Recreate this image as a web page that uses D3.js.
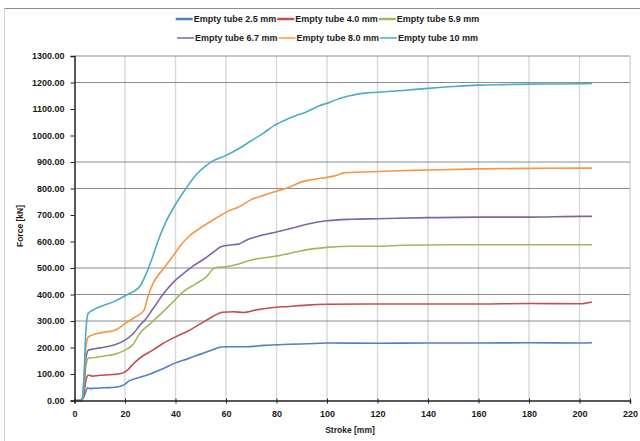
<!DOCTYPE html>
<html>
<head>
<script src="https://d3js.org/d3.v7.min.js"></script>
<style>
  body { margin: 0; background: #fff; }
  text { font-family: "Liberation Sans", Arial, sans-serif; fill: #1a1a1a; }
</style>
</head>
<body>
<svg id="chart" width="640" height="441"></svg>
<script>
// series: [stroke mm, force kN]
const tube25 = [[0,0],[2,0],[3,3],[3.8,15],[4.5,35],[5.2,48],[6,45],[8,46],[12,48],[16,50],[18.5,55],[20,62],[21.5,73],[25,85],[30,100],[35,120],[40,142],[45,158],[50,175],[55,192],[58,202],[62,203],[68,203],[75,208],[85,212],[95,215],[100,217],[120,216],[140,217],[160,217],[180,218],[200,217],[205,218]];
const tube40 = [[0,0],[2,0],[3,3],[3.8,30],[4.5,75],[5.5,96],[7,92],[10,95],[15,98],[18.5,102],[21,115],[24,145],[27,168],[31,190],[35,215],[40,240],[45,262],[50,290],[55,318],[58.5,333],[63,335],[67,332],[72,342],[78,350],[85,355],[92,360],[100,363],[115,364],[140,364],[160,364],[180,366],[200,365],[205,372]];
const tube59 = [[0,0],[2,0],[3,3],[3.8,50],[4.5,130],[5.5,160],[8,162],[12,168],[16,175],[20,190],[23,210],[26,255],[30,290],[34,325],[38.5,367],[43,410],[48,440],[52,465],[55.5,500],[60,505],[65,515],[70,530],[80,545],[90,565],[95,573],[100,578],[110,582],[120,582],[130,586],[150,588],[170,588],[190,588],[205,588]];
const tube67 = [[0,0],[2,0],[3,3],[3.8,60],[4.5,160],[5.5,190],[8,195],[12,202],[16,210],[20,228],[23,250],[26,285],[28,305],[31,345],[35,400],[39,445],[43,478],[47,508],[51,532],[55,560],[58,580],[61,586],[65,590],[68,605],[72,618],[80,636],[88,655],[93,667],[100,678],[110,684],[120,686],[140,690],[160,692],[180,692],[200,695],[205,695]];
const tube80 = [[0,0],[2,0],[3,3],[3.8,80],[4.5,200],[5.5,240],[8,250],[12,258],[16,265],[20,290],[24,315],[27.5,340],[29,390],[31,440],[35,495],[39,545],[42,585],[45,617],[50,652],[55,682],[61,715],[65,730],[70,758],[75,775],[80,790],[85,805],[90,825],[95,835],[100,842],[104,850],[107,860],[115,862],[125,866],[140,870],[160,874],[180,876],[200,877],[205,877]];
const tube10 = [[0,0],[2,0],[3,5],[3.8,100],[4.5,260],[5.4,328],[8,345],[12,360],[16,375],[21,400],[24,415],[26,432],[28,470],[30.5,530],[33,600],[36,670],[40,740],[44.5,805],[48,850],[52,885],[55,905],[60,925],[65,950],[70,980],[75,1010],[79,1037],[85,1065],[92,1090],[97,1112],[101,1125],[105,1140],[110,1152],[115,1160],[120,1163],[130,1170],[140,1178],[150,1185],[160,1190],[170,1192],[180,1194],[200,1195],[205,1196]];

const seriesNames = ["Empty tube 2.5 mm", "Empty tube 4.0 mm", "Empty tube 5.9 mm", "Empty tube 6.7 mm", "Empty tube 8.0 mm", "Empty tube 10 mm"];
const seriesData = [tube25, tube40, tube59, tube67, tube80, tube10];
const seriesColors = ["#4f81bd", "#c0504d", "#9bbb59", "#8064a2", "#f79646", "#4bacc6"];

const xTicks = d3.range(0, 221, 20);
const yTicks = d3.range(0, 1301, 100);
const hGrid = [300, 400, 500, 800, 900, 1200, 1300]; // gridlines that show in the original

const svg = d3.select("#chart");

// outer frame
svg.append("line").attr("x1", 4.5).attr("x2", 640).attr("y1", 8.5).attr("y2", 8.5)
  .attr("stroke", "#8c8c8c").attr("stroke-width", 1);
svg.append("line").attr("x1", 4.5).attr("x2", 4.5).attr("y1", 8.5).attr("y2", 441)
  .attr("stroke", "#d0d0d0").attr("stroke-width", 1);

const x = d3.scaleLinear().domain([0, 220]).range([74.5, 630]);
const y = d3.scaleLinear().domain([0, 1300]).range([400.5, 56]);

const g = svg.append("g");

// vertical gridlines
g.selectAll(".vg").data(xTicks.filter(d => d > 0)).join("line")
  .attr("x1", d => x(d)).attr("x2", d => x(d))
  .attr("y1", y(1300)).attr("y2", y(0))
  .attr("stroke", "#d9d9d9").attr("stroke-width", 1.5);

// horizontal gridlines
g.selectAll(".hg").data(hGrid).join("line")
  .attr("x1", x(0)).attr("x2", x(220))
  .attr("y1", d => y(d)).attr("y2", d => y(d))
  .attr("stroke", "#8c8c8c").attr("stroke-width", 1);

// lines
const line = d3.line().x(d => x(d[0])).y(d => y(d[1])).curve(d3.curveMonotoneX);
g.selectAll(".series").data(seriesData).join("path")
  .attr("d", line)
  .attr("fill", "none")
  .attr("stroke", (d, i) => seriesColors[i])
  .attr("stroke-width", 1.6)
  .attr("stroke-linejoin", "round");

// axes
const yAxis = d3.axisLeft(y).tickValues(yTicks).tickSize(4).tickPadding(6)
  .tickFormat(d => d.toFixed(2));
const ya = svg.append("g").attr("transform", `translate(${x(0)},0)`).call(yAxis);
ya.select(".domain").attr("stroke", "#222").attr("stroke-width", 1.5);
ya.selectAll(".tick line").attr("stroke", "#222");
ya.selectAll("text").attr("font-size", 9).attr("font-weight", "bold").attr("fill", "#1a1a1a")
  .style("font-family", "Liberation Sans, Arial, sans-serif");

const xAxis = d3.axisBottom(x).tickValues(xTicks).tickSize(3).tickPadding(7);
const xa = svg.append("g").attr("transform", `translate(0,${y(0)})`).call(xAxis);
xa.select(".domain").attr("stroke", "#222").attr("stroke-width", 1.5);
xa.selectAll(".tick line").attr("stroke", "#222").attr("y1", -2);
xa.selectAll("text").attr("font-size", 9).attr("font-weight", "bold").attr("fill", "#1a1a1a")
  .style("font-family", "Liberation Sans, Arial, sans-serif");

// axis titles
svg.append("text").attr("x", 350).attr("y", 433).attr("text-anchor", "middle")
  .attr("font-size", 8.5).attr("font-weight", "bold").text("Stroke [mm]");
svg.append("text").attr("transform", "translate(23,226) rotate(-90)").attr("text-anchor", "middle")
  .attr("font-size", 8.5).attr("font-weight", "bold").text("Force [kN]");

// legend, two rows of three
const legendRows = [[0, 1, 2], [3, 4, 5]];
legendRows.forEach((row, r) => {
  const lg = svg.append("g");
  let cx = 0;
  row.forEach(i => {
    lg.append("line").attr("x1", cx).attr("x2", cx + 17).attr("y1", 0).attr("y2", 0)
      .attr("stroke", seriesColors[i]).attr("stroke-width", r === 0 ? 2.5 : 1.5);
    const t = lg.append("text").attr("x", cx + 18).attr("y", 3.2).attr("font-size", 9)
      .attr("font-weight", "bold").text(seriesNames[i]);
    cx += 18 + t.node().getComputedTextLength() + 1;
  });
  lg.attr("transform", `translate(${328 - cx / 2},${r === 0 ? 19 : 38})`);
});
</script>
</body>
</html>
